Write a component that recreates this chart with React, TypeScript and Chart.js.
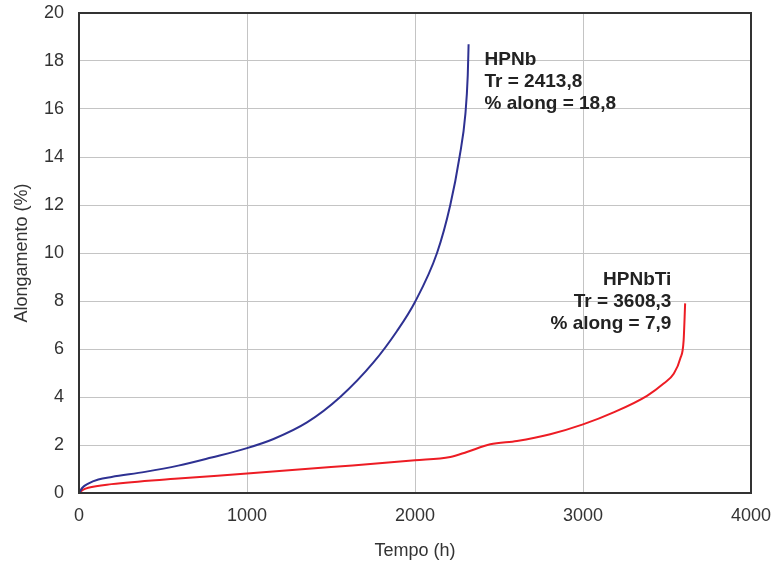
import React, { useEffect, useRef } from "react";
import { Chart, registerables } from "chart.js";

Chart.register(...registerables);

const hpnbTime = [0, 20, 55, 115, 194, 393, 591, 789, 1000, 1158, 1357, 1555, 1754, 1893, 2000, 2131, 2210, 2265, 2300, 2314, 2319];
const hpnbElong = [0, 0.22, 0.39, 0.56, 0.67, 0.88, 1.14, 1.48, 1.87, 2.25, 2.94, 4.0, 5.45, 6.75, 7.96, 10.0, 12.0, 14.0, 15.8, 17.4, 18.7];

const hpnbtiTime = [0, 20, 55, 194, 591, 1000, 1500, 2000, 2210, 2309, 2448, 2607, 2805, 3000, 3182, 3381, 3480, 3540, 3579, 3599, 3608];
const hpnbtiElong = [0, 0.12, 0.22, 0.37, 0.6, 0.81, 1.08, 1.36, 1.5, 1.71, 2.03, 2.17, 2.45, 2.86, 3.36, 4.05, 4.56, 4.97, 5.6, 6.36, 7.9];

const xTicks = [0, 1000, 2000, 3000, 4000];
const yTicks = [0, 2, 4, 6, 8, 10, 12, 14, 16, 18, 20];

const hpnbLabel = ["HPNb", "Tr = 2413,8", "% along = 18,8"];
const hpnbtiLabel = ["HPNbTi", "Tr = 3608,3", "% along = 7,9"];

const FONT = "'Liberation Sans', Arial, sans-serif";

const framePlugin = {
  id: "frame",
  afterDatasetsDraw(chart: any) {
    const { ctx, chartArea: a, scales } = chart;
    ctx.save();
    ctx.strokeStyle = "#333";
    ctx.lineWidth = 2;
    ctx.strokeRect(a.left, a.top, a.right - a.left, a.bottom - a.top);
    ctx.fillStyle = "#222";
    ctx.font = `bold 19px ${FONT}`;
    ctx.textBaseline = "alphabetic";
    ctx.textAlign = "left";
    let x = scales.x.getPixelForValue(2413.8);
    let y = scales.y.getPixelForValue(17.85);
    hpnbLabel.forEach((t, i) => ctx.fillText(t, x, y + i * 22));
    ctx.textAlign = "right";
    x = scales.x.getPixelForValue(3526);
    y = scales.y.getPixelForValue(8.65);
    hpnbtiLabel.forEach((t, i) => ctx.fillText(t, x, y + i * 22));
    ctx.restore();
  },
};

export default function App() {
  const ref = useRef<HTMLCanvasElement>(null);
  useEffect(() => {
    const chart = new Chart(ref.current!, {
      type: "line",
      data: {
        datasets: [
          {
            label: "HPNb",
            data: hpnbTime.map((t, i) => ({ x: t, y: hpnbElong[i] })),
            borderColor: "#2e3192",
            borderWidth: 2,
            pointRadius: 0,
            cubicInterpolationMode: "monotone",
            fill: false,
          },
          {
            label: "HPNbTi",
            data: hpnbtiTime.map((t, i) => ({ x: t, y: hpnbtiElong[i] })),
            borderColor: "#ed1c24",
            borderWidth: 2,
            pointRadius: 0,
            cubicInterpolationMode: "monotone",
            fill: false,
          },
        ],
      },
      options: {
        animation: false,
        responsive: false,
        maintainAspectRatio: false,
        layout: { padding: { left: 0, top: 13, right: 23, bottom: 0 } },
        plugins: { legend: { display: false }, tooltip: { enabled: false } },
        scales: {
          x: {
            type: "linear",
            min: 0,
            max: 4000,
            afterBuildTicks: (s: any) => {
              s.ticks = xTicks.map((v) => ({ value: v }));
            },
            afterFit: (s: any) => {
              s.height = 69;
              s.paddingLeft = 0;
              s.paddingRight = 0;
            },
            grid: { color: "#c4c4c4", lineWidth: 1, drawTicks: false },
            border: { display: false },
            ticks: {
              padding: 12,
              color: "#333",
              font: { family: FONT, size: 18 },
              maxRotation: 0,
              callback: (v: any) => String(v),
            },
            title: {
              display: true,
              text: "Tempo (h)",
              color: "#333",
              font: { family: FONT, size: 18 },
              padding: { top: 10, bottom: 0 },
            },
          },
          y: {
            type: "linear",
            min: 0,
            max: 20,
            afterBuildTicks: (s: any) => {
              s.ticks = yTicks.map((v) => ({ value: v }));
            },
            afterFit: (s: any) => {
              s.width = 79;
              s.paddingTop = 0;
              s.paddingBottom = 0;
            },
            grid: { color: "#c4c4c4", lineWidth: 1, drawTicks: false },
            border: { display: false },
            ticks: {
              padding: 15,
              color: "#333",
              font: { family: FONT, size: 18 },
              callback: (v: any) => String(v),
            },
            title: {
              display: true,
              text: "Alongamento (%)",
              color: "#333",
              font: { family: FONT, size: 18 },
              padding: { top: 11, bottom: 0 },
            },
          },
        },
      },
      plugins: [framePlugin],
    } as any);
    return () => chart.destroy();
  }, []);
  return (
    <div style={{ position: "fixed", left: 0, top: 0, width: 774, height: 562, background: "#fff" }}>
      <canvas ref={ref} width={774} height={562} style={{ width: 774, height: 562 }} />
    </div>
  );
}
